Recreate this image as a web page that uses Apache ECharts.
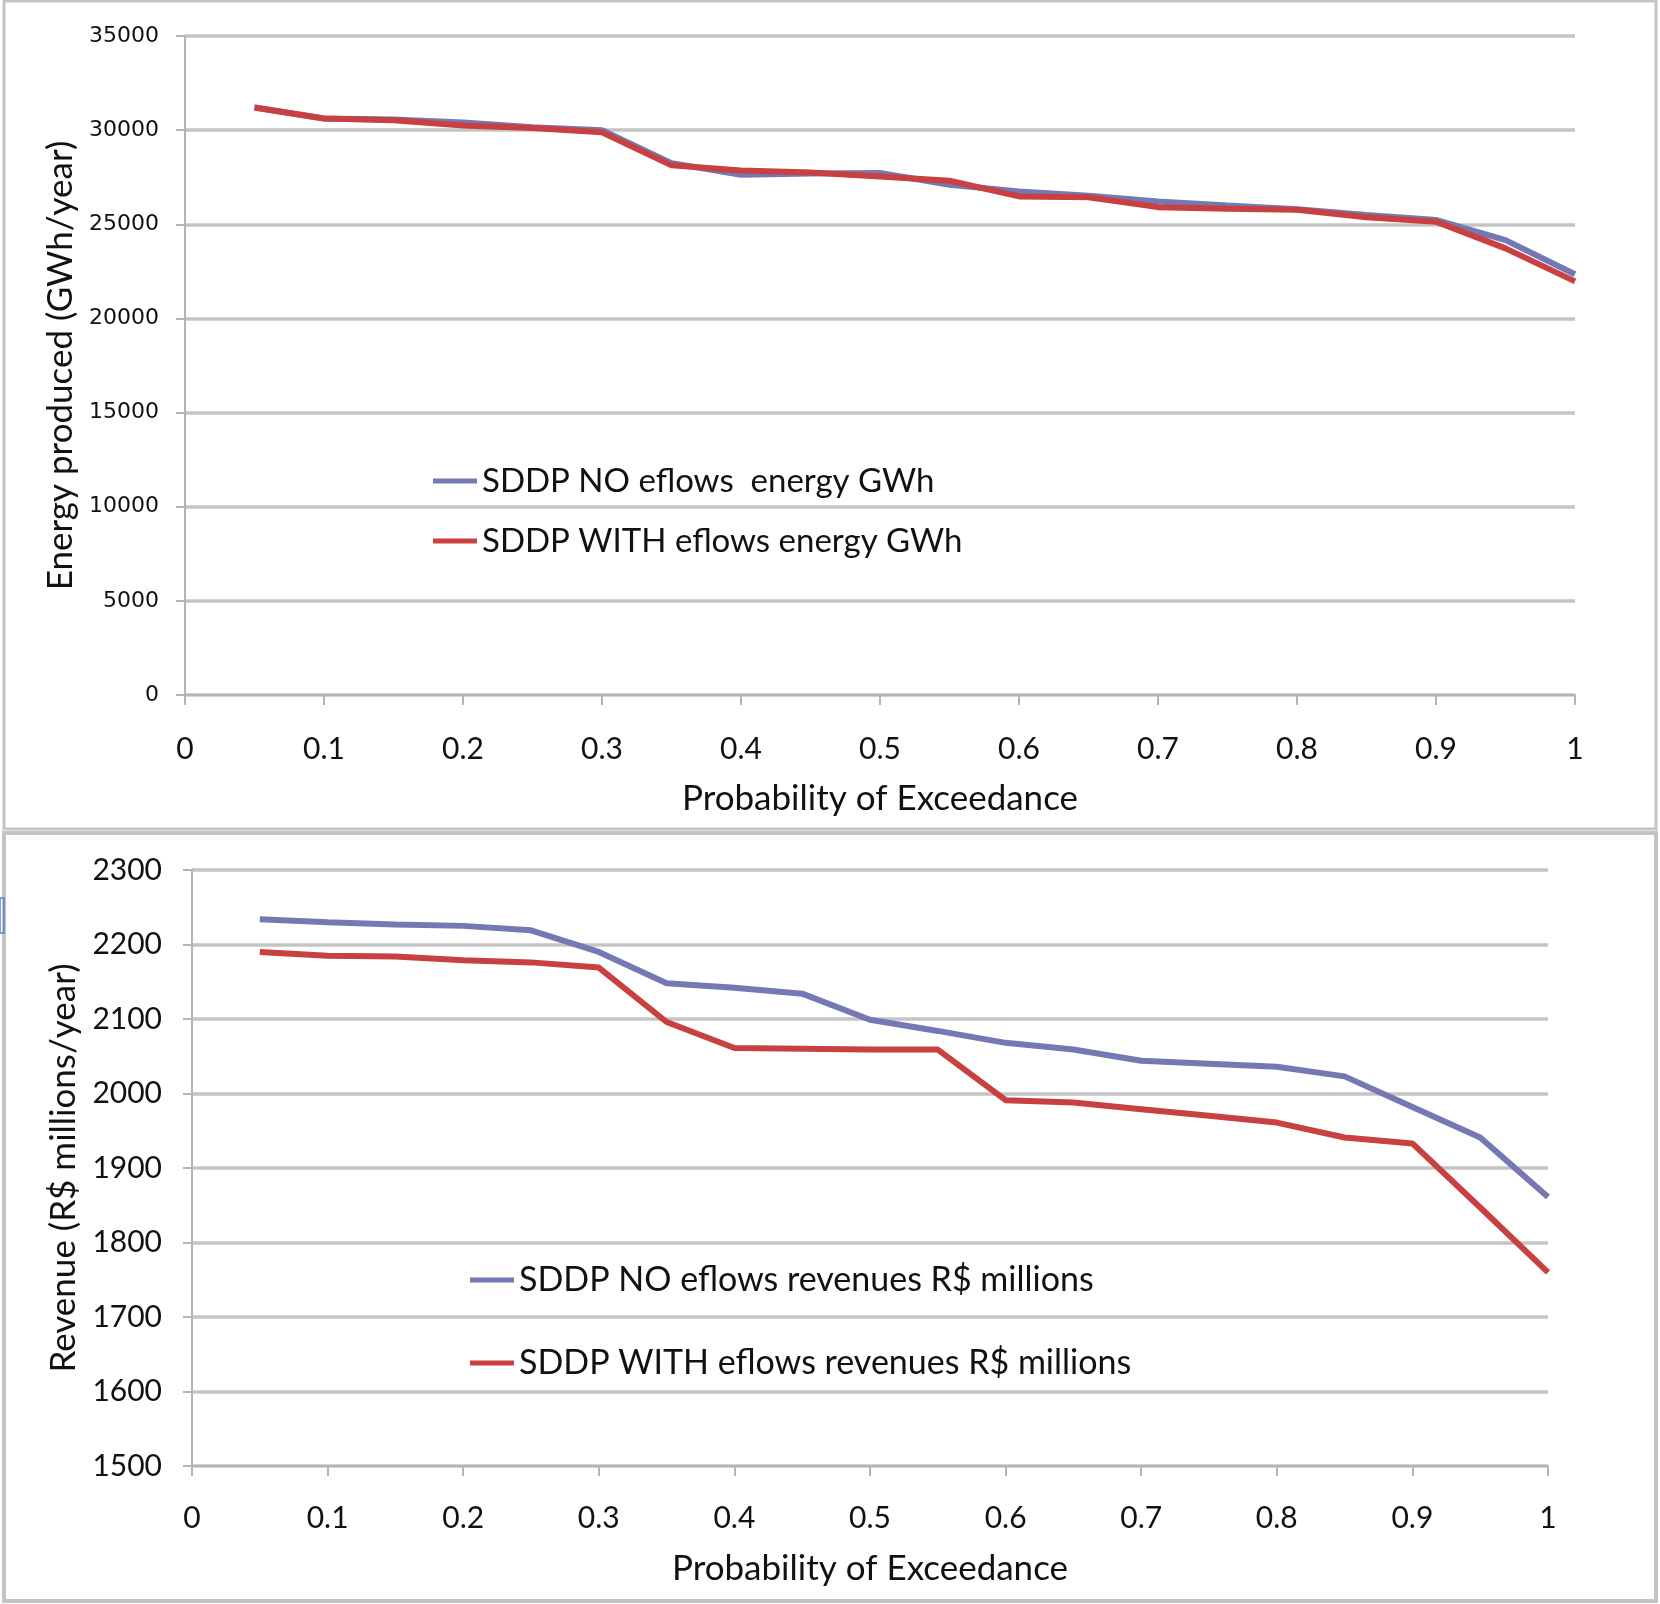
<!DOCTYPE html>
<html>
<head>
<meta charset="utf-8">
<script src="https://cdn.jsdelivr.net/npm/echarts@6/dist/echarts.min.js"></script>
<style>
  html, body { margin: 0; padding: 0; background: #fff; }
  #main { width: 1660px; height: 1604px; }
</style>
</head>
<body>
<div id="main"></div>
<script>
// probability of exceedance (x values of both panels)
var probs = [0.05, 0.1, 0.15, 0.2, 0.25, 0.3, 0.35, 0.4, 0.45, 0.5,
             0.55, 0.6, 0.65, 0.7, 0.75, 0.8, 0.85, 0.9, 0.95, 1.0];
// energy produced, GWh/year
var energyNo   = [31200, 30620, 30560, 30400, 30150, 30000, 28250, 27630, 27700, 27720,
                  27100, 26740, 26510, 26210, 26000, 25800, 25500, 25230, 24160, 22350];
var energyWith = [31200, 30620, 30530, 30250, 30120, 29890, 28130, 27860, 27750, 27540,
                  27310, 26480, 26440, 25910, 25820, 25770, 25370, 25140, 23720, 21970];
// revenue, R$ millions/year
var revNo   = [2234, 2230, 2227, 2225, 2219, 2190, 2148, 2142, 2134, 2099,
               2084, 2068, 2059, 2044, 2040, 2036, 2023, 1982, 1941, 1861];
var revWith = [2190, 2185, 2184, 2179, 2176, 2169, 2096, 2061, 2060, 2059,
               2059, 1991, 1988, 1979, 1970, 1961, 1941, 1933, 1847, 1760];

var nameEnNo = 'SDDP NO eflows  energy GWh';
var nameEnWith = 'SDDP WITH eflows energy GWh';
var nameRevNo = 'SDDP NO eflows revenues R$ millions';
var nameRevWith = 'SDDP WITH eflows revenues R$ millions';

var blue = '#7479b4';
var red = '#c8403f';
var gridGray = '#c4c4c4';
var axisGray = '#b4b4b4';
var font = 'Lato';

function pairs(xs, ys) {
    var out = [];
    for (var i = 0; i < xs.length; i++) out.push([xs[i], ys[i]]);
    return out;
}

function xAxisCfg(gridIndex, margin, nameGap) {
    return {
        gridIndex: gridIndex,
        type: 'value',
        min: 0, max: 1, interval: 0.1,
        name: 'Probability of Exceedance',
        nameLocation: 'middle',
        nameGap: nameGap,
        nameTextStyle: { fontFamily: font, fontSize: 35, color: '#111' },
        axisLine: { show: true, lineStyle: { color: axisGray, width: 2 } },
        axisTick: { show: true, length: 10, lineStyle: { color: axisGray, width: 2 } },
        axisLabel: { fontFamily: font, fontSize: 30, color: '#111', margin: margin,
                     formatter: function (v) { return String(Math.round(v * 10) / 10); } },
        splitLine: { show: false }
    };
}

function yAxisCfg(gridIndex, min, max, step, title, labelFont, labelSize, margin, nameGap) {
    return {
        gridIndex: gridIndex,
        type: 'value',
        min: min, max: max, interval: step,
        name: title,
        nameLocation: 'middle',
        nameGap: nameGap,
        nameTextStyle: { fontFamily: font, fontSize: 35, color: '#111' },
        axisLine: { show: true, lineStyle: { color: axisGray, width: 2 } },
        axisTick: { show: true, length: 9, lineStyle: { color: axisGray, width: 2 } },
        axisLabel: { fontFamily: labelFont, fontSize: labelSize, color: '#111', margin: margin,
                     formatter: function (v) { return String(v); } },
        splitLine: { show: true, lineStyle: { color: gridGray, width: 3.5 } }
    };
}

function lineSeries(name, data, color, xi, yi) {
    return {
        name: name,
        type: 'line',
        xAxisIndex: xi,
        yAxisIndex: yi,
        data: data,
        showSymbol: false,
        symbol: 'none',
        lineStyle: { color: color, width: 6 },
        itemStyle: { color: color },
        animation: false
    };
}

function legendCfg(names, left, top, gap, size) {
    return {
        data: names,
        orient: 'vertical',
        left: left,
        top: top,
        itemGap: gap,
        itemWidth: 44,
        itemHeight: 5,
        icon: 'rect',
        selectedMode: false,
        textStyle: { fontFamily: font, fontSize: size, color: '#111', lineHeight: 36 }
    };
}

var chart = echarts.init(document.getElementById('main'), null, { renderer: 'canvas' });

var option = {
    backgroundColor: '#fff',
    animation: false,
    grid: [
        { left: 185, top: 36, width: 1390, height: 659 },
        { left: 192, top: 870, width: 1356, height: 596 }
    ],
    xAxis: [ xAxisCfg(0, 39, 86), xAxisCfg(1, 37, 85) ],
    yAxis: [
        yAxisCfg(0, 0, 35000, 5000, 'Energy produced (GWh/year)', 'DejaVu Sans', 22, 26, 103),
        yAxisCfg(1, 1500, 2300, 100, 'Revenue (R$ millions/year)', font, 30, 30, 98)
    ],
    legend: [
        legendCfg([nameEnNo, nameEnWith], 428, 458, 24, 33),
        legendCfg([nameRevNo, nameRevWith], 465, 1257, 47, 34)
    ],
    series: [
        lineSeries(nameEnNo, pairs(probs, energyNo), blue, 0, 0),
        lineSeries(nameEnWith, pairs(probs, energyWith), red, 0, 0),
        lineSeries(nameRevNo, pairs(probs, revNo), blue, 1, 1),
        lineSeries(nameRevWith, pairs(probs, revWith), red, 1, 1)
    ],
    // spreadsheet panel frames around the two charts
    graphic: [
        { type: 'rect', shape: { x: 4, y: 1, width: 1652, height: 828 },
          style: { fill: 'none', stroke: '#c4c4c4', lineWidth: 3 }, silent: true },
        { type: 'rect', shape: { x: 4, y: 833, width: 1652, height: 768 },
          style: { fill: 'none', stroke: '#c4c4c4', lineWidth: 4 }, silent: true },
        { type: 'rect', shape: { x: 0, y: 898, width: 4, height: 35 },
          style: { fill: 'none', stroke: '#5b7fd6', lineWidth: 1.5 }, silent: true }
    ]
};

chart.setOption(option);
</script>
</body>
</html>
